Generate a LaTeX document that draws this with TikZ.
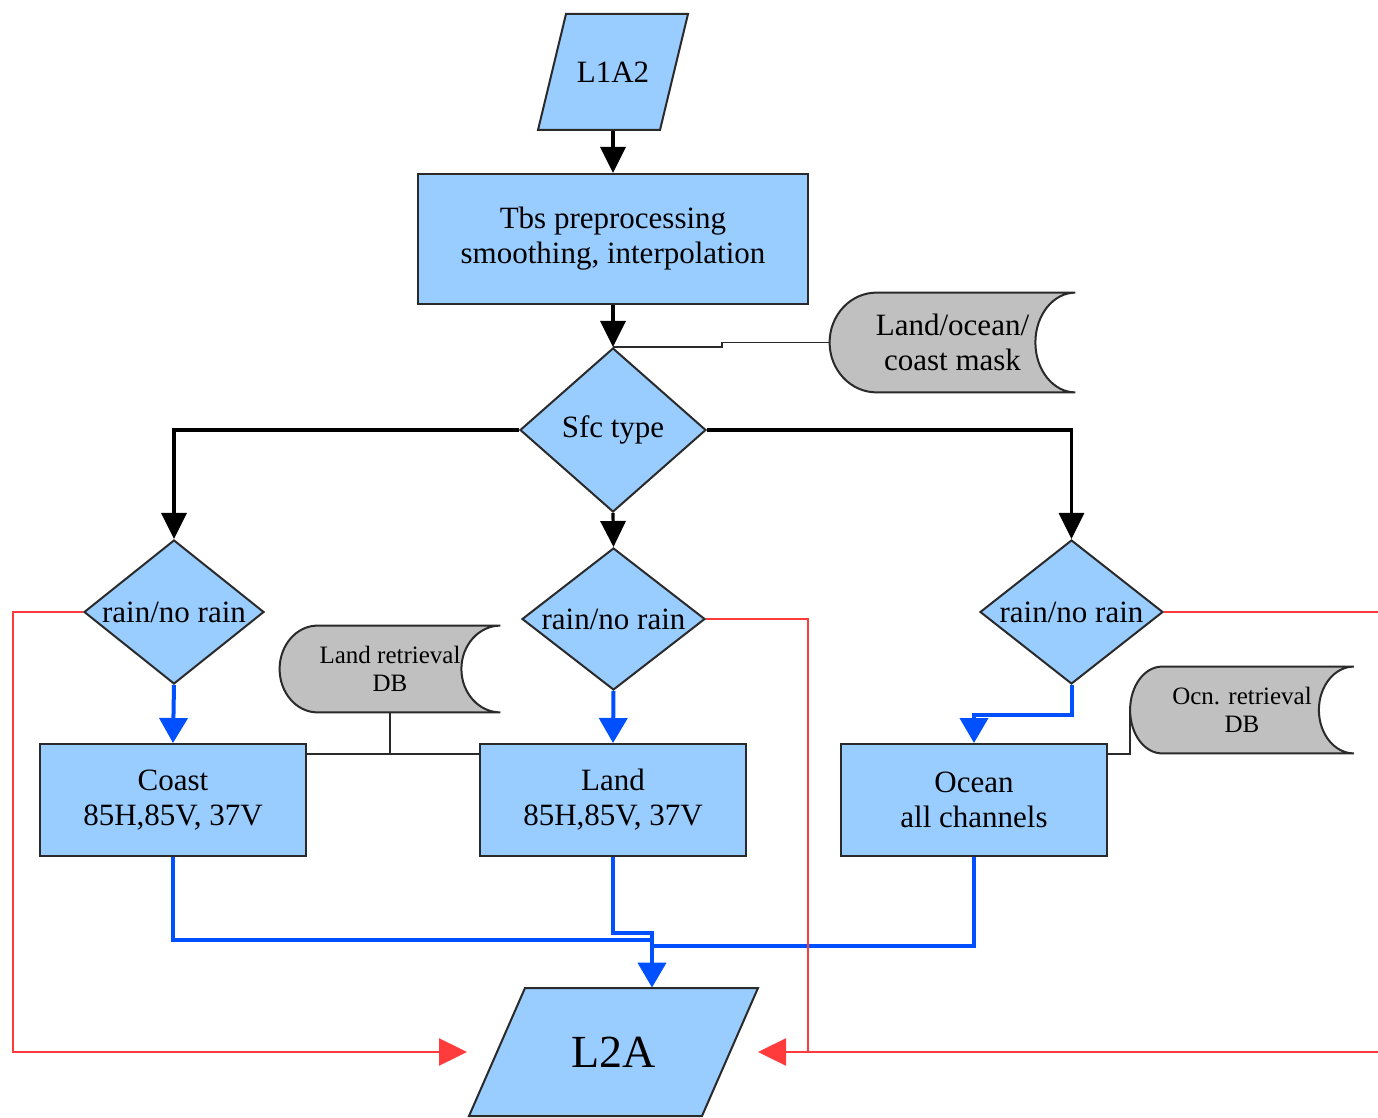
\documentclass[tikz,border=0pt]{standalone}
\usepackage{fontspec}
\setmainfont{Liberation Serif}
\usetikzlibrary{shapes.geometric,arrows.meta,calc}
\pgfdeclarelayer{bg}
\pgfdeclarelayer{shapelayer}
\pgfsetlayers{bg,shapelayer,main}
\definecolor{boxblue}{HTML}{99CCFF}
\definecolor{dbgray}{HTML}{C0C0C0}
\definecolor{flowblue}{HTML}{0050FF}
\definecolor{flowred}{HTML}{FF3B3B}
\definecolor{edgecol}{HTML}{2A2A2A}
\newcommand\dbshape[3]{%
  \path[dbfill] ($(#1.north west)+(#2,0)$) -- (#1.north east)
   .. controls ($(#1.north east)+(-0.5523*#3,0)$) and ($(#1.east)!0.5523!(#1.north east)+(-#3,0)$) .. ($(#1.east)+(-#3,0)$)
   .. controls ($(#1.east)!0.5523!(#1.south east)+(-#3,0)$) and ($(#1.south east)+(-0.5523*#3,0)$) .. (#1.south east)
   -- ($(#1.south west)+(#2,0)$)
   .. controls ($(#1.south west)+(0.4477*#2,0)$) and ($(#1.west)!0.5523!(#1.south west)$) .. (#1.west)
   .. controls ($(#1.west)!0.5523!(#1.north west)$) and ($(#1.north west)+(0.4477*#2,0)$) .. ($(#1.north west)+(#2,0)$) -- cycle;}
\begin{document}
\begin{tikzpicture}[x=0.5pt,y=-0.5pt,
  mainfont/.style={font=\fontsize{15.5}{17.5}\selectfont},
  procbox/.style={rectangle,draw=edgecol,fill=boxblue,line width=1pt,inner sep=0pt,align=center,mainfont},
  decision/.style={diamond,draw=edgecol,fill=boxblue,line width=1pt,inner sep=0pt,align=center,mainfont},
  iotext/.style={rectangle,inner sep=0pt,align=center},
  iofill/.style={draw=edgecol,fill=boxblue,line width=1pt},
  dbtext/.style={rectangle,inner sep=0pt,align=center,font=\fontsize{12.5}{14}\selectfont},
  dbfill/.style={draw=edgecol,fill=dbgray,line width=1pt},
  blackarrow/.style={draw=black,line width=1.6pt,-{Triangle[width=12.5pt,length=13pt]}},
  dblink/.style={draw=edgecol,line width=0.9pt},
  blueline/.style={draw=flowblue,line width=2pt},
  bluearrow/.style={blueline,-{Triangle[width=14pt,length=12.5pt]}},
  redline/.style={draw=flowred,line width=1.2pt},
  redarrow/.style={redline,-{Triangle[width=13.5pt,length=14pt]}}
]
\useasboundingbox (0,0) rectangle (1378,1118);
\begin{pgfonlayer}{bg}
\fill[white] (0,0) rectangle (1378,1118);
\end{pgfonlayer}

% nodes
\node[iotext,mainfont,minimum width=61pt,minimum height=58pt] (l1a2) at (613,72) {L1A2};
\node[procbox,minimum width=195pt,minimum height=65pt] (tbs) at (613,239) {Tbs preprocessing\\smoothing, interpolation};
\node[decision,minimum width=93pt,minimum height=82pt,label={[mainfont]center:Sfc type}] (sfc) at (613,430) {};
\node[iotext,mainfont,minimum width=122.5pt,minimum height=49.5pt] (mask) at (952.5,342.5) {Land/ocean/\\coast mask};
\node[decision,minimum width=90pt,minimum height=72pt,label={[mainfont]center:rain/no rain}] (ldia) at (174,612) {};
\node[decision,minimum width=91.5pt,minimum height=71pt,label={[mainfont]center:rain/no rain}] (mdia) at (613.5,619) {};
\node[decision,minimum width=91.5pt,minimum height=72pt,label={[mainfont]center:rain/no rain}] (rdia) at (1071.5,612) {};
\node[dbtext,minimum width=110pt,minimum height=43pt] (landdb) at (390,669) {Land retrieval\\DB};
\node[dbtext,minimum width=111.5pt,minimum height=43pt] (ocndb) at (1242,710) {Ocn. retrieval\\DB};
\node[procbox,minimum width=133pt,minimum height=56pt] (coast) at (173,800) {Coast\\85H,85V, 37V};
\node[procbox,minimum width=133pt,minimum height=56pt] (land) at (613,800) {Land\\85H,85V, 37V};
\node[procbox,minimum width=133pt,minimum height=56pt] (ocean) at (974,800) {Ocean\\all channels};
\node[iotext,font=\fontsize{23}{26}\selectfont,minimum width=117pt,minimum height=64pt] (l2a) at (613.5,1052) {L2A};

% shapes drawn under the texts
\begin{pgfonlayer}{shapelayer}
\path[iofill] (566,14) -- (688,14) -- (660,130) -- (538,130) -- cycle;
\path[iofill] (525,988) -- (758,988) -- (702,1116) -- (469,1116) -- cycle;
\dbshape{mask}{47}{40}
\dbshape{landdb}{38}{39}
\dbshape{ocndb}{32}{35}
\end{pgfonlayer}

\coordinate (cl) at ($(coast.north east)+(0,11)$);
\coordinate (oc) at ($(ocean.north east)+(0,11)$);
\coordinate (jn) at (652,940);
\coordinate (jo) at (652,946);
\coordinate (l2aL) at (467,1052);
\coordinate (l2aR) at (758,1052);
\coordinate (redj) at (808,1052);
\coordinate (eastT) at (1378,612);
\coordinate (eastB) at (1378,1052);

\begin{pgfonlayer}{bg}
% black flow
\draw[blackarrow] (l1a2.south) -- (tbs.north);
\draw[blackarrow] (tbs.south) -- (sfc.north);
\draw[blackarrow] (sfc.west) -| (ldia.north);
\draw[blackarrow] (sfc.east) -| (rdia.north);
\draw[blackarrow] (sfc.south) -- (mdia.north);
% data links
\draw[dblink] (sfc.north) -- ++(109,0) |- (mask.west);
\draw[dblink] (cl) -- (cl -| land.west);
\draw[dblink] (landdb.south) -- (landdb.south |- cl);
\draw[dblink] (oc) -| (ocndb.west);
% blue flow
\draw[bluearrow] (ldia.south) -- (coast.north);
\draw[bluearrow] (mdia.south) -- (land.north);
\draw[bluearrow] (rdia.south) -- ++(0,30) -| (ocean.north);
\draw[blueline] (coast.south) |- (jn);
\draw[blueline] (ocean.south) |- (jo);
\draw[bluearrow] (land.south) -- ++(0,76) -| (jn |- l2a.north);
% red flow
\draw[redarrow] (ldia.west) -- ++(-70,0) |- (l2aL);
\draw[redline] (mdia.east) -| (redj);
\draw[redline] (rdia.east) -- (eastT);
\draw[redarrow] (eastB) -- (l2aR);
\end{pgfonlayer}
\end{tikzpicture}
\end{document}
